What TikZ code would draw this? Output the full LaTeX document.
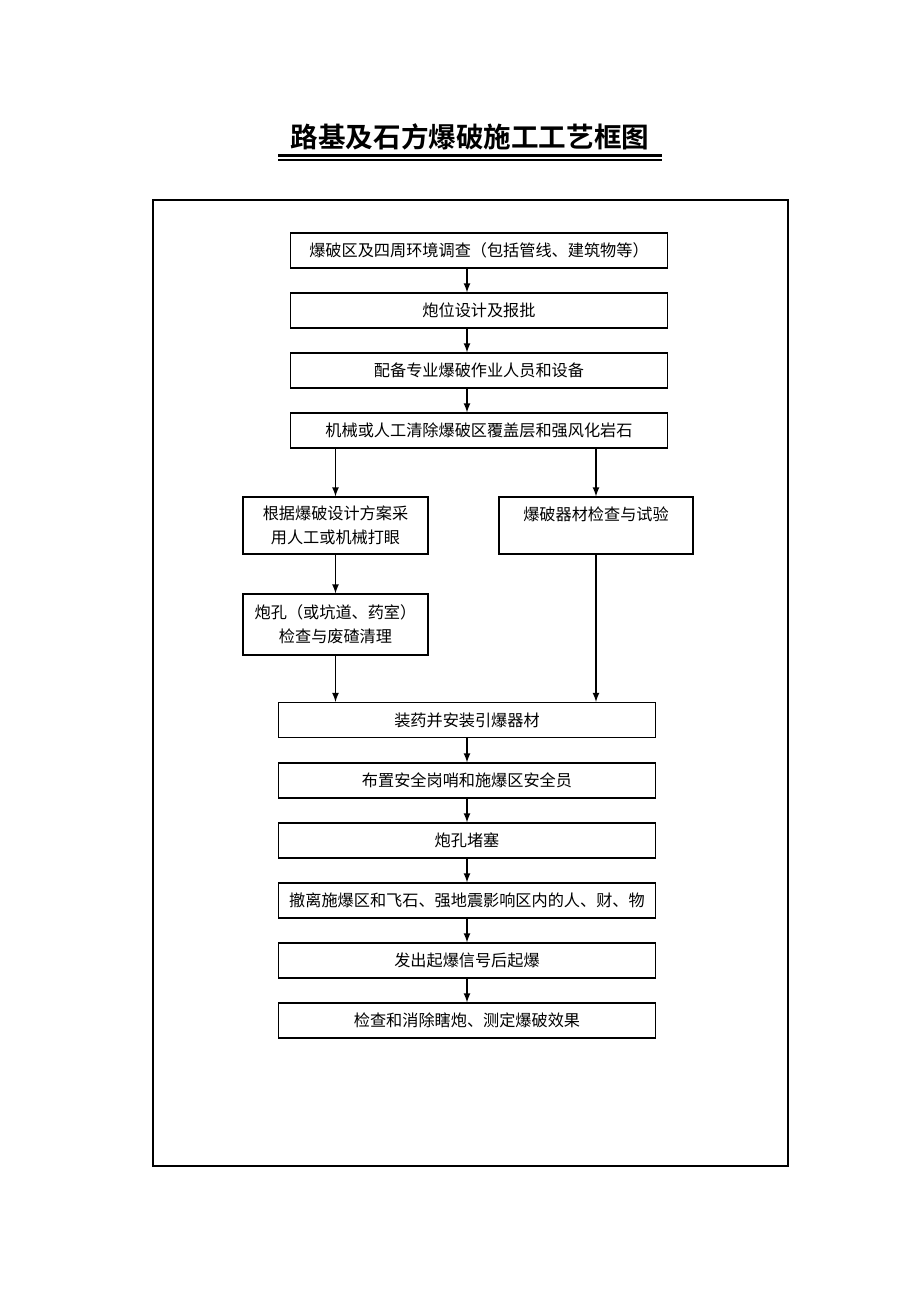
\documentclass[tikz,border=0pt]{standalone}
\usepackage{fontspec}
\setmainfont{Noto Sans CJK SC}
\newfontfamily\titlefont{Noto Sans CJK SC Bold}
\usetikzlibrary{arrows}

\begin{document}
\begin{tikzpicture}[x=0.02cm,y=-0.02cm]
				\tikzstyle{step box}=[draw,line width=0.6pt,inner sep=2pt,align=center,font=\fontsize{9.2}{13.6}\selectfont]
				\tikzstyle{wide box}=[step box,minimum width=7.56cm,minimum height=0.7cm]
				\tikzstyle{flow}=[->,>=latex,line width=0.8pt]
				\useasboundingbox (0,0) rectangle (920,1302);
				% title
				\node[font=\titlefont\fontsize{15.7}{18}\selectfont] (title) at (470,137) {路基及石方爆破施工工艺框图};
				\draw[line width=1.2pt] (278,155.5) -- (662,155.5);
				\draw[line width=0.8pt] (278,160) -- (662,160);
				% frame
				\draw[line width=1.2pt] (153,200) rectangle (788,1166);
				% upper chain
				\node[wide box] (survey) at (479,250.5) {爆破区及四周环境调查（包括管线、建筑物等）};
				\node[wide box] (design) at (479,310.5) {炮位设计及报批};
				\node[wide box] (staff) at (479,370.5) {配备专业爆破作业人员和设备};
				\node[wide box] (clear) at (479,430.5) {机械或人工清除爆破区覆盖层和强风化岩石};
				% two branches
				\node[step box,minimum width=3.7cm,minimum height=1.14cm] (drill) at (335.5,525.5) {根据爆破设计方案采\\用人工或机械打眼};
				\node[step box,minimum width=3.7cm,minimum height=1.22cm] (hole) at (335.5,624.5) {炮孔（或坑道、药室）\\检查与废碴清理};
				\node[step box,minimum width=3.88cm,minimum height=1.14cm] (test) at (596,525.5) {爆破器材检查与试验\\\mbox{}};
				% lower chain
				\node[wide box] (charge) at (467,720) {装药并安装引爆器材};
				\node[wide box] (guard) at (467,780.5) {布置安全岗哨和施爆区安全员};
				\node[wide box] (plug) at (467,840.5) {炮孔堵塞};
				\node[wide box] (evac) at (467,900.5) {撤离施爆区和飞石、强地震影响区内的人、财、物};
				\node[wide box] (fire) at (467,960.5) {发出起爆信号后起爆};
				\node[wide box] (check) at (467,1020.5) {检查和消除瞎炮、测定爆破效果};
				% arrows
				\draw[flow] (survey.south -| charge) -- (design.north -| charge);
				\draw[flow] (design.south -| charge) -- (staff.north -| charge);
				\draw[flow] (staff.south -| charge) -- (clear.north -| charge);
				\draw[flow] (clear.south -| drill) -- (drill.north);
				\draw[flow] (clear.south -| test) -- (test.north);
				\draw[flow] (drill) -- (hole);
				\draw[flow] (hole.south) -- (hole.south |- charge.north);
				\draw[flow] (test.south) -- (test.south |- charge.north);
				\draw[flow] (charge) -- (guard);
				\draw[flow] (guard) -- (plug);
				\draw[flow] (plug) -- (evac);
				\draw[flow] (evac) -- (fire);
				\draw[flow] (fire) -- (check);
\end{tikzpicture}
\end{document}
